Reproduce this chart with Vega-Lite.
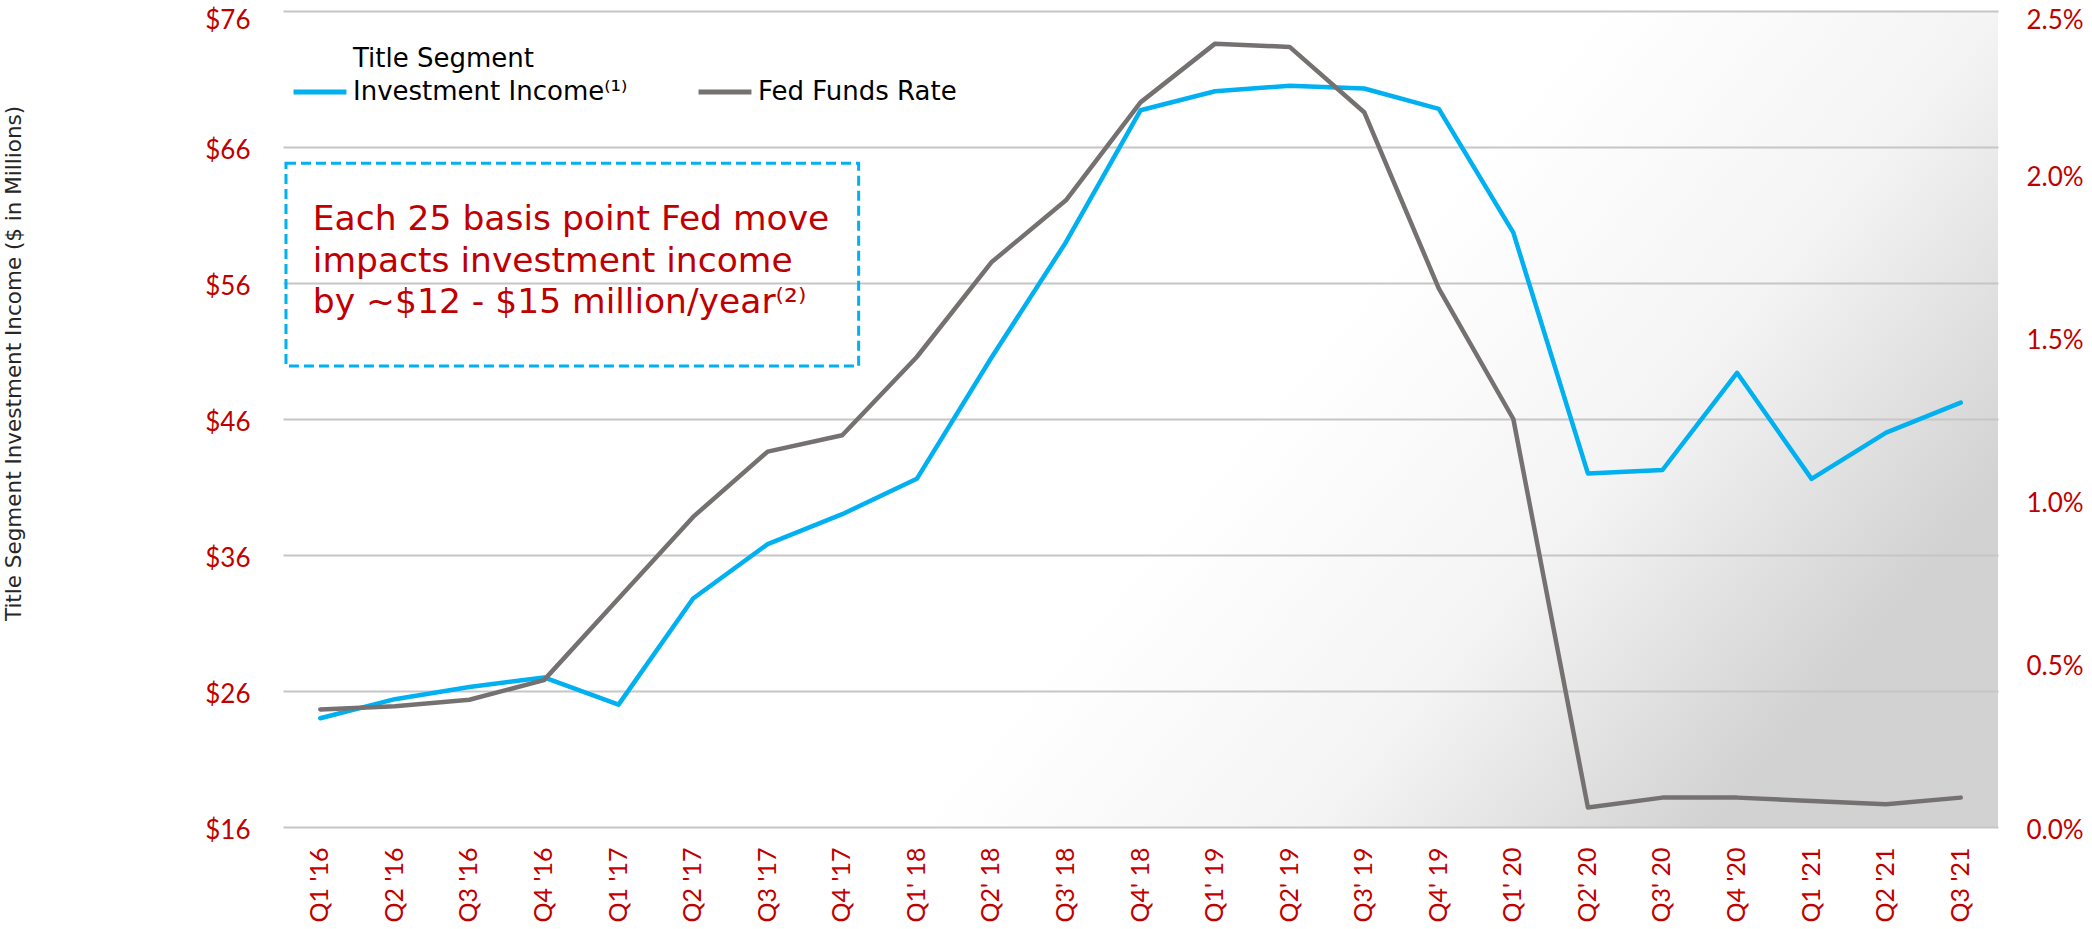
{
  "$schema": "https://vega.github.io/schema/vega-lite/v6.json",
  "width": 1715,
  "height": 816,
  "autosize": "none",
  "padding": {"left": 283, "top": 11, "right": 94, "bottom": 102},
  "background": "#ffffff",
  "view": {
    "stroke": null,
    "fill": {
      "gradient": "linear",
      "x1": 0.6, "y1": 0.42, "x2": 1.0, "y2": 0.58,
      "stops": [
        {"offset": 0, "color": "#ffffff"},
        {"offset": 0.5, "color": "#f4f4f4"},
        {"offset": 1, "color": "#d2d2d2"}
      ]
    }
  },
  "config": {
    "style": {"guide-label": {"lineHeight": 33}}
  },
  "data": {
    "values": [
      {"q": "Q1 '16", "inc": 24.0, "fed": 0.36},
      {"q": "Q2 '16", "inc": 25.4, "fed": 0.37},
      {"q": "Q3 '16", "inc": 26.3, "fed": 0.39},
      {"q": "Q4 '16", "inc": 27.0, "fed": 0.45},
      {"q": "Q1 '17", "inc": 25.0, "fed": 0.70},
      {"q": "Q2 '17", "inc": 32.8, "fed": 0.95},
      {"q": "Q3 '17", "inc": 36.8, "fed": 1.15},
      {"q": "Q4 '17", "inc": 39.0, "fed": 1.20},
      {"q": "Q1' 18", "inc": 41.6, "fed": 1.44},
      {"q": "Q2' 18", "inc": 50.5, "fed": 1.73},
      {"q": "Q3' 18", "inc": 59.0, "fed": 1.92},
      {"q": "Q4' 18", "inc": 68.7, "fed": 2.22},
      {"q": "Q1' 19", "inc": 70.1, "fed": 2.40},
      {"q": "Q2' 19", "inc": 70.5, "fed": 2.39},
      {"q": "Q3' 19", "inc": 70.3, "fed": 2.19},
      {"q": "Q4' 19", "inc": 68.8, "fed": 1.65},
      {"q": "Q1' 20", "inc": 59.7, "fed": 1.25},
      {"q": "Q2' 20", "inc": 42.0, "fed": 0.06},
      {"q": "Q3' 20", "inc": 42.25, "fed": 0.09},
      {"q": "Q4 '20", "inc": 49.4, "fed": 0.09},
      {"q": "Q1 '21", "inc": 41.6, "fed": 0.08},
      {"q": "Q2 '21", "inc": 45.0, "fed": 0.07},
      {"q": "Q3 '21", "inc": 47.2, "fed": 0.09}
    ]
  },
  "layer": [
    {
      "data": {"values": [{"x1": 0.04, "x2": 7.72, "y1": 64.8, "y2": 49.9}]},
      "mark": {"type": "rect", "filled": false, "stroke": "#00b0f0", "strokeWidth": 3, "strokeDash": [10, 5]},
      "encoding": {
        "x": {"field": "x1", "type": "quantitative", "scale": {"domain": [0, 23], "nice": false, "zero": false}, "axis": null},
        "x2": {"field": "x2"},
        "y": {"field": "y1", "type": "quantitative", "scale": {"domain": [16, 76], "nice": false, "zero": false}, "axis": null},
        "y2": {"field": "y2"}
      }
    },
    {
      "data": {"values": [{"xp": 0.4, "yp": 60.63, "note": "Each 25 basis point Fed move\nimpacts investment income\nby ~$12 - $15 million/year⁽²⁾"}]},
      "mark": {"type": "text", "align": "left", "baseline": "middle", "lineBreak": "\n", "lineHeight": 41.5, "font": "DejaVu Sans", "fontSize": 34.5, "color": "#c00000"},
      "encoding": {
        "x": {"field": "xp", "type": "quantitative", "scale": {"domain": [0, 23], "nice": false, "zero": false}, "axis": null},
        "y": {"field": "yp", "type": "quantitative", "scale": {"domain": [16, 76], "nice": false, "zero": false}, "axis": null},
        "text": {"field": "note"}
      }
    },
    {
      "mark": {"type": "line", "strokeWidth": 4.5, "strokeCap": "round", "strokeJoin": "round"},
      "encoding": {
        "x": {
          "field": "q", "type": "nominal",
          "scale": {"type": "band", "paddingInner": 0, "paddingOuter": 0, "domain": ["Q1 '16","Q2 '16","Q3 '16","Q4 '16","Q1 '17","Q2 '17","Q3 '17","Q4 '17","Q1' 18","Q2' 18","Q3' 18","Q4' 18","Q1' 19","Q2' 19","Q3' 19","Q4' 19","Q1' 20","Q2' 20","Q3' 20","Q4 '20","Q1 '21","Q2 '21","Q3 '21"]},
          "axis": {"title": null, "labelAngle": -90, "labelPadding": 20, "ticks": false, "domain": false, "grid": false, "labelFont": "Lato", "labelFontSize": 25, "labelColor": "#c00000"}
        },
        "y": {
          "field": "inc", "type": "quantitative",
          "scale": {"domain": [16, 76], "nice": false, "zero": false},
          "axis": {
            "title": "Title Segment Investment Income ($ in Millions)",
            "titleFont": "DejaVu Sans", "titleFontSize": 21.5, "titleFontWeight": "normal", "titleColor": "#262626",
            "titleX": -269, "titleY": 352, "titleAngle": 270, "titleAlign": "center", "titleBaseline": "middle",
            "values": [16, 26, 36, 46, 56, 66, 76],
            "labelExpr": "'$' + datum.value",
            "labelPadding": 33,
            "labelOffset": {"condition": {"test": "datum.value == 76", "value": 9}, "value": 3},
            "ticks": false, "domain": false,
            "labelFont": "Lato", "labelFontSize": 26, "labelColor": "#c00000",
            "grid": true, "gridColor": "#c6c6c6", "gridWidth": 2
          }
        },
        "color": {
          "datum": "Title Segment Investment Income",
          "scale": {"domain": ["Title Segment Investment Income", "Fed Funds Rate"], "range": ["#00b0f0", "#767171"]},
          "legend": {
            "title": null, "orient": "none", "legendX": 8, "legendY": 52, "direction": "horizontal",
            "padding": 0, "symbolType": "stroke", "symbolSize": 2800, "symbolStrokeWidth": 5,
            "labelFont": "DejaVu Sans", "labelFontSize": 26, "labelColor": "#000000", "labelOffset": 4,
            "labelLimit": 500, "columnPadding": 60,
            "labelExpr": "datum.label == 'Fed Funds Rate' ? ['', 'Fed Funds Rate'] : ['Title Segment', 'Investment Income⁽¹⁾']",
            "encode": {"labels": {"update": {"dy": {"value": -33}}}}
          }
        }
      }
    },
    {
      "mark": {"type": "line", "strokeWidth": 4.5, "strokeCap": "round", "strokeJoin": "round"},
      "encoding": {
        "x": {
          "field": "q", "type": "nominal",
          "scale": {"type": "band", "paddingInner": 0, "paddingOuter": 0, "domain": ["Q1 '16","Q2 '16","Q3 '16","Q4 '16","Q1 '17","Q2 '17","Q3 '17","Q4 '17","Q1' 18","Q2' 18","Q3' 18","Q4' 18","Q1' 19","Q2' 19","Q3' 19","Q4' 19","Q1' 20","Q2' 20","Q3' 20","Q4 '20","Q1 '21","Q2 '21","Q3 '21"]},
          "axis": null
        },
        "y": {
          "field": "fed", "type": "quantitative",
          "scale": {"domain": [0, 2.5], "nice": false, "zero": false},
          "axis": {
            "orient": "right", "title": null,
            "values": [0, 0.5, 1, 1.5, 2, 2.5],
            "labelExpr": "format(datum.value, '.1f') + '%'",
            "labelPadding": 28,
            "labelOffset": {"condition": {"test": "datum.value == 2.5", "value": 9}, "value": 3},
            "labelAlign": "left", "ticks": false, "domain": false, "grid": false,
            "labelFont": "Lato", "labelFontSize": 26, "labelColor": "#c00000"
          }
        },
        "color": {"datum": "Fed Funds Rate"}
      }
    }
  ],
  "resolve": {"scale": {"x": "independent", "y": "independent"}}
}
